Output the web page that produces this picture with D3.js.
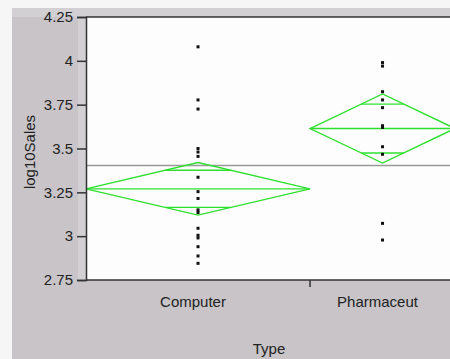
<!DOCTYPE html>
<html><head><meta charset="utf-8">
<script src="https://cdn.jsdelivr.net/npm/d3@7"></script>
<style>
html,body{margin:0;padding:0;background:#f6f6f6;}
svg{display:block;font-family:"Liberation Sans",Arial,sans-serif;}
</style></head>
<body>
<svg id="c" width="450" height="359"></svg>
<script>
const categories = ["Computer", "Pharmaceut"];
const computerValues = [4.08, 3.777, 3.725, 3.50, 3.48, 3.455, 3.336, 3.254, 3.215, 3.15, 3.135, 3.045, 3.005, 2.99, 2.94, 2.887, 2.845];
const pharmaValues = [3.99, 3.97, 3.824, 3.777, 3.733, 3.63, 3.62, 3.51, 3.467, 3.073, 2.978];
const groupMeans = [3.27, 3.614];
const groupCIHalf = [0.15, 0.197];
const grandMean = 3.403;
const yTicks = [2.75, 3, 3.25, 3.5, 3.75, 4, 4.25];
const yTickLabels = ["2.75", "3", "3.25", "3.5", "3.75", "4", "4.25"];
const yTitle = "log10Sales";
const xTitle = "Type";

const groups = [computerValues, pharmaValues];
const svg = d3.select("#c");
const L = 86, T = 17, B = 280, R = 455;

// background panel
svg.append("rect").attr("x", 0).attr("y", 0).attr("width", 450).attr("height", 359).attr("fill", "#f6f6f6");
svg.append("rect").attr("x", 12).attr("y", 8).attr("width", 440).attr("height", 352).attr("fill", "#c8c4c8");
svg.append("rect").attr("x", 12).attr("y", 8).attr("width", 440).attr("height", 9).attr("fill", "#d2d0d2");
svg.append("rect").attr("x", 78).attr("y", 8).attr("width", 8).attr("height", 272).attr("fill", "#d2d0d2");

const y = d3.scaleLinear().domain([2.75, 4.25]).range([B, T]);
const counts = groups.map(g => g.length);
const N = d3.sum(counts);
const xs = d3.scaleLinear().domain([0, N]).range([L, R]);
const starts = counts.map((c, i) => d3.sum(counts.slice(0, i)));
const bounds = counts.map((c, i) => [xs(starts[i]), xs(starts[i] + c)]);
const centers = bounds.map(b => (b[0] + b[1]) / 2);

// plot area
svg.append("rect").attr("x", L).attr("y", T).attr("width", R - L).attr("height", B - T).attr("fill", "#fdfdfd");

// grand mean
svg.append("line").attr("x1", L).attr("x2", R).attr("y1", y(grandMean)).attr("y2", y(grandMean))
  .attr("stroke", "#9a9a9a").attr("stroke-width", 1.5);

// diamonds
const green = "#2ee02e";
groupMeans.forEach((m, i) => {
  const [x0, x1] = bounds[i];
  const cx = centers[i];
  const hw = (x1 - x0) / 2;
  const ci = groupCIHalf[i];
  const g = svg.append("g").attr("fill", "none").attr("stroke", green).attr("stroke-width", 1.4);
  g.append("path").attr("d", `M${x0},${y(m)}L${cx},${y(m + ci)}L${x1},${y(m)}L${cx},${y(m - ci)}Z`);
  g.append("line").attr("x1", x0).attr("x2", x1).attr("y1", y(m)).attr("y2", y(m));
  const ov = ci / Math.SQRT2;
  const frac = 1 - ov / ci;
  [m + ov, m - ov].forEach(v => {
    g.append("line").attr("x1", cx - hw * frac).attr("x2", cx + hw * frac).attr("y1", y(v)).attr("y2", y(v));
  });
});

// points
groups.forEach((vals, i) => {
  svg.append("g").selectAll("rect").data(vals).join("rect")
    .attr("x", centers[i] - 1.5).attr("y", d => y(d) - 1.5)
    .attr("width", 3).attr("height", 3).attr("fill", "#111");
});

// frame
svg.append("line").attr("x1", L).attr("x2", R).attr("y1", T).attr("y2", T).attr("stroke", "#333").attr("stroke-width", 1.5);
svg.append("line").attr("x1", L).attr("x2", R).attr("y1", B).attr("y2", B).attr("stroke", "#333").attr("stroke-width", 1.5);

// y axis
const yAxis = d3.axisLeft(y).tickValues(yTicks).tickSize(9).tickPadding(4)
  .tickFormat((d, i) => yTickLabels[i]);
const ya = svg.append("g").attr("transform", `translate(${L},0)`).call(yAxis);
ya.select(".domain").attr("stroke", "#333").attr("stroke-width", 1.5);
ya.selectAll(".tick line").attr("stroke", "#333").attr("stroke-width", 1.5);
ya.selectAll(".tick text").attr("fill", "#222").style("font-size", "15px").style("font-family", "Liberation Sans, Arial, sans-serif");

// x group separators
bounds.slice(0, -1).forEach(b => {
  svg.append("line").attr("x1", b[1]).attr("x2", b[1]).attr("y1", B).attr("y2", B + 7).attr("stroke", "#333").attr("stroke-width", 1.5);
});

// x labels
categories.forEach((c, i) => {
  svg.append("text").attr("x", centers[i] - 5).attr("y", 307).attr("text-anchor", "middle")
    .attr("fill", "#222").style("font-size", "15px").text(c);
});

svg.append("text").attr("x", 269).attr("y", 354).attr("text-anchor", "middle")
  .attr("fill", "#222").style("font-size", "15px").text(xTitle);
svg.append("text").attr("transform", "translate(35,152) rotate(-90)").attr("text-anchor", "middle")
  .attr("fill", "#222").style("font-size", "15px").text(yTitle);
</script>
</body></html>
